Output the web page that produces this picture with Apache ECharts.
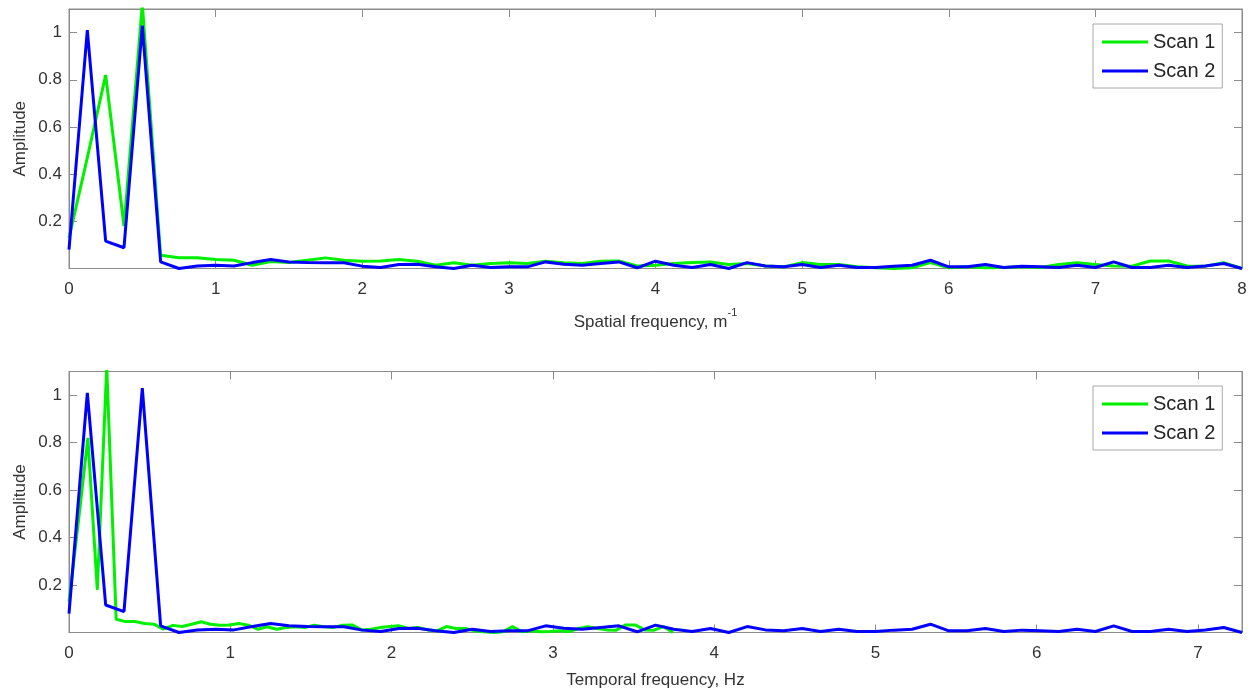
<!DOCTYPE html>
<html>
<head>
<meta charset="utf-8">
<script src="https://cdn.jsdelivr.net/npm/echarts@6/dist/echarts.min.js"></script>
<style>
html,body{margin:0;padding:0;background:#fff;}
#chart{width:1253px;height:692px;}
</style>
</head>
<body>
<div id="chart"></div>
<script>
// ---- Data ----
const seriesNames = ['Scan 1', 'Scan 2'];
// Frequency bin widths
const spatialStep = 0.125;          // m^-1 per bin (both scans)
const temporalStepScan1 = 0.0585;   // Hz per bin, scan 1
const temporalStepScan2 = 0.11364;  // Hz per bin, scan 2
// Amplitudes per bin
const scan1Amp = [0.13,0.47,0.82,0.18,1.12,0.056,0.046,0.046,0.038,0.035,
  0.014,0.030,0.025,0.035,0.045,0.035,0.031,0.032,0.038,0.031,
  0.014,0.024,0.014,0.021,0.024,0.021,0.031,0.024,0.021,0.031,
  0.032,0.011,0.014,0.021,0.025,0.028,0.017,0.021,0.011,0.007,
  0.025,0.017,0.017,0.007,0.003,0.0,0.003,0.025,0.003,0.007,
  0.003,0.004,0.007,0.004,0.017,0.024,0.017,0.011,0.010,0.032,
  0.032,0.011,0.010,0.025,0.0];
const scan2Amp = [0.08,1.01,0.116,0.088,1.03,0.028,0.0,0.011,0.014,0.011,
  0.025,0.038,0.028,0.025,0.024,0.024,0.010,0.004,0.017,0.018,
  0.007,0.0,0.014,0.004,0.007,0.007,0.028,0.018,0.014,0.021,
  0.028,0.003,0.031,0.014,0.004,0.017,0.0,0.025,0.011,0.007,
  0.017,0.004,0.014,0.004,0.004,0.010,0.014,0.035,0.007,0.007,
  0.017,0.004,0.010,0.007,0.004,0.014,0.004,0.028,0.004,0.004,
  0.014,0.004,0.011,0.021,0.0];
const yTicks = [0.2, 0.4, 0.6, 0.8, 1];
const spatialMax = 8;
const temporalMax = 8 / 1.1;

function pairs(step, amps){ return amps.map((a,i)=>[i*step, a]); }

// ---- Styling ----
const FONT = 'Liberation Sans, Arial, Helvetica, sans-serif';
const axisGray = '#8c8c8c';
const textCol = '#333333';
const colors = ['#00f000', '#0000ff'];

function xAxes(gridIndex, max, name, showMax, nameGap){
  const fmt = v => (Math.abs(v - Math.round(v)) < 1e-6) ? String(Math.round(v)) : '';
  return [{
    type:'value', gridIndex, min:0, max, interval:1, position:'bottom',
    name, nameLocation:'middle', nameGap, nameMoveOverlap:false,
    nameTextStyle:{fontFamily:FONT, fontSize:17, color:textCol,
      rich:{n:{fontFamily:FONT,fontSize:17,color:textCol},
            sup:{fontFamily:FONT,fontSize:11,color:textCol,padding:[0,0,18,0]}}},
    axisLine:{show:true, onZero:false, lineStyle:{color:axisGray, width:1}},
    axisTick:{show:true, inside:true, length:8, lineStyle:{color:axisGray}},
    axisLabel:{show:true, fontFamily:FONT, fontSize:17, color:textCol, margin:12.5,
      formatter:fmt, showMaxLabel:showMax, showMinLabel:true},
    splitLine:{show:false}
  },{
    type:'value', gridIndex, min:0, max, interval:1, position:'top',
    axisLine:{show:true, onZero:false, lineStyle:{color:axisGray, width:1}},
    axisTick:{show:true, inside:true, length:8, lineStyle:{color:axisGray}},
    axisLabel:{show:false}, splitLine:{show:false}
  }];
}
function yAxes(gridIndex){
  const fmt = v => yTicks.some(t => Math.abs(t - v) < 1e-6) ? String(+v.toFixed(1)) : '';
  return [{
    type:'value', gridIndex, min:0, max:1.1, interval:0.2, position:'left',
    name:'Amplitude', nameLocation:'middle', nameGap:40, nameRotate:90, nameMoveOverlap:false,
    nameTextStyle:{fontFamily:FONT, fontSize:17, color:textCol},
    axisLine:{show:true, onZero:false, lineStyle:{color:axisGray, width:1}},
    axisTick:{show:true, inside:true, length:8, lineStyle:{color:axisGray}},
    axisLabel:{show:true, fontFamily:FONT, fontSize:17, color:textCol, margin:7,
      formatter:fmt, showMaxLabel:false, showMinLabel:false},
    splitLine:{show:false}
  },{
    type:'value', gridIndex, min:0, max:1.1, interval:0.2, position:'right',
    axisLine:{show:true, onZero:false, lineStyle:{color:axisGray, width:1}},
    axisTick:{show:true, inside:true, length:8, lineStyle:{color:axisGray}},
    axisLabel:{show:false}, splitLine:{show:false}
  }];
}
function legend(top){
  return {
    left:1093, top, orient:'vertical', data:seriesNames,
    icon:'rect', itemWidth:46, itemHeight:3, itemGap:9,
    padding:[8,7,7,9], borderColor:'#a8a8a8', borderWidth:1, backgroundColor:'#fff',
    textStyle:{fontFamily:FONT, fontSize:20, color:'#262626'},
    selectedMode:false
  };
}
function line(name, xi, yi, data, color){
  return {
    name, type:'line', xAxisIndex:xi, yAxisIndex:yi, data,
    showSymbol:false, symbol:'none', animation:false, clip:true,
    lineStyle:{color, width:3}, itemStyle:{color}
  };
}

const option = {
  animation:false,
  backgroundColor:'#fff',
  grid:[
    {left:69, top:9, width:1173, height:259.5, show:true, borderColor:axisGray, borderWidth:1, backgroundColor:'#fff'},
    {left:69, top:371.5, width:1173, height:261, show:true, borderColor:axisGray, borderWidth:1, backgroundColor:'#fff'}
  ],
  xAxis:[
    ...xAxes(0, spatialMax, '{n|Spatial frequency, m}{sup|-1}', true, 39),
    ...xAxes(1, temporalMax, 'Temporal frequency, Hz', false, 39)
  ],
  yAxis:[...yAxes(0), ...yAxes(1)],
  legend:[legend(24), legend(386)],
  series:[
    line(seriesNames[0], 0, 0, pairs(spatialStep, scan1Amp), colors[0]),
    line(seriesNames[1], 0, 0, pairs(spatialStep, scan2Amp), colors[1]),
    line(seriesNames[0], 2, 2, pairs(temporalStepScan1, scan1Amp), colors[0]),
    line(seriesNames[1], 2, 2, pairs(temporalStepScan2, scan2Amp), colors[1])
  ]
};
const chart = echarts.init(document.getElementById('chart'), null, {renderer:'canvas'});
chart.setOption(option);
</script>
</body>
</html>
